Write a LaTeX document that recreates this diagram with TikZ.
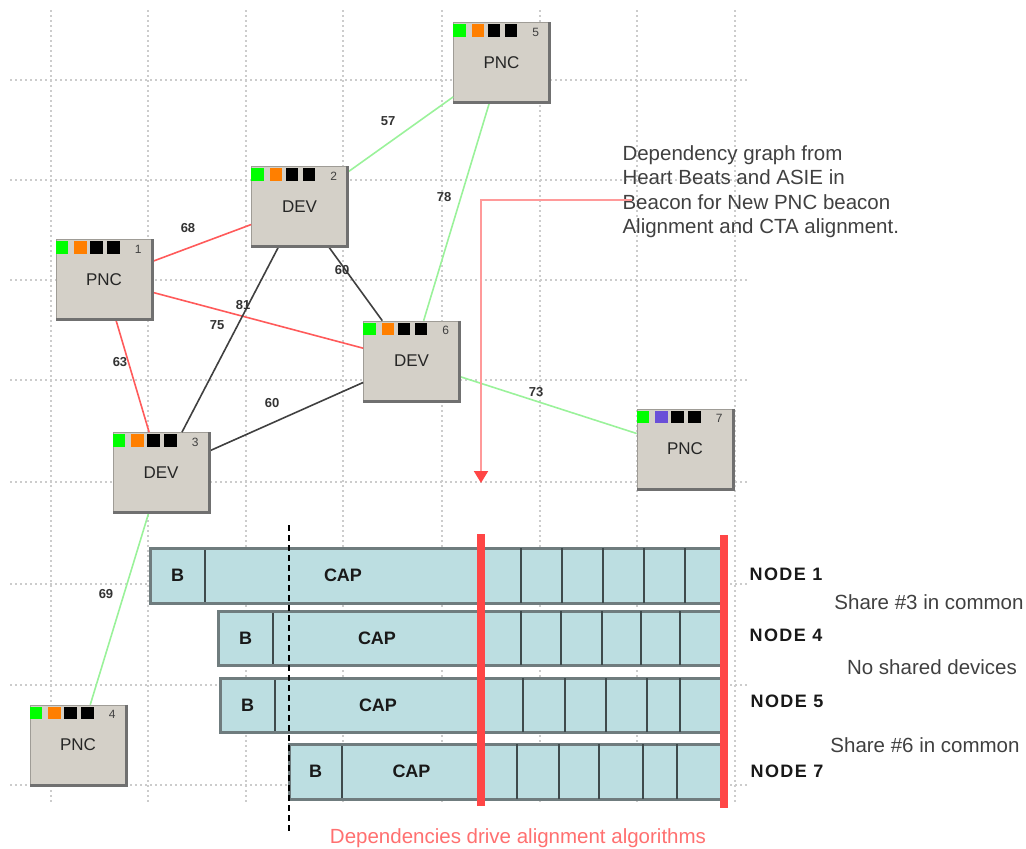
\documentclass[tikz,border=0pt]{standalone}
\usepackage{fontspec}
\setmainfont{Liberation Sans}
\usetikzlibrary{arrows.meta}

\definecolor{boxgray}{HTML}{D4D0C8}
\definecolor{shadowgray}{HTML}{707070}
\definecolor{linkred}{HTML}{FF5A5A}
\definecolor{linkgreen}{HTML}{9AF29A}
\definecolor{linkdark}{HTML}{404040}
\definecolor{slotblue}{HTML}{BCDEE1}
\definecolor{slotedge}{HTML}{6F7C7E}
\definecolor{slotdiv}{HTML}{3E4A4C}
\definecolor{markred}{HTML}{FF4646}
\definecolor{arrowred}{HTML}{FF9A9A}
\definecolor{notered}{HTML}{FF7070}
\definecolor{gridgray}{HTML}{CCCCCC}
\definecolor{ledgreen}{HTML}{00FF00}
\definecolor{ledorange}{HTML}{FF7F00}
\definecolor{ledpurple}{HTML}{6A4FD8}

\begin{document}
\begin{tikzpicture}[x=1pt, y=-1pt,
    station/.style={rectangle, draw=boxgray!75!black, line width=0.6pt, fill=boxgray,
        minimum width=96pt, minimum height=80pt, inner sep=0pt,
        font=\fontsize{17}{17}\selectfont, text=black!85},
    led/.style={rectangle, minimum size=12.5pt, inner sep=0pt},
    num/.style={font=\fontsize{12}{12}\selectfont, text=black!75},
    weight/.style={font=\bfseries\fontsize{13}{13}\selectfont, text=black!80},
    slotlabel/.style={font=\bfseries\fontsize{18}{18}\selectfont, text=black!90},
    rowlabel/.style={font=\bfseries\fontsize{18}{18}\selectfont\addfontfeature{LetterSpace=8}, text=black!90},
    note/.style={font=\fontsize{20.5}{24.5}\selectfont, text=black!75}]

    \useasboundingbox (0,0) rectangle (1026,849);

    % grid
    \foreach \x in {51,148,246,343,442,540,637,735}
        \draw[gridgray, line width=1.5pt, dash pattern=on 2pt off 3pt] (\x,10) -- (\x,803);
    \foreach \y in {80,180,280,380,482,584,685,785}
        \draw[gridgray, line width=1.5pt, dash pattern=on 2pt off 3pt] (10,\y) -- (747,\y);

    % stations
    \node[station] (p1) at (104,279.5) {PNC};
    \node[station] (d2) at (299.5,206.5) {DEV};
    \node[station] (d3) at (161,472.5) {DEV};
    \node[station] (p4) at (78,745) {PNC};
    \node[station] (p5) at (501.5,62.5) {PNC};
    \node[station] (d6) at (411.5,361) {DEV};
    \node[station] (p7) at (685,449) {PNC};

    \foreach \from/\to/\c in {p1/d2/linkred, p1/d6/linkred, p1/d3/linkred,
        d2/d6/linkdark, d2/d3/linkdark, d3/d6/linkdark,
        d2/p5/linkgreen, p5/d6/linkgreen, d6/p7/linkgreen, d3/p4/linkgreen}
        \draw[\c, line width=1.6pt] (\from) -- (\to);

    \foreach \n/\k/\c in {p1/1/ledorange, d2/2/ledorange, d3/3/ledorange, p4/4/ledorange,
        p5/5/ledorange, d6/6/ledorange, p7/7/ledpurple} {
        \draw[shadowgray, line width=3pt] (\n.north east) -- (\n.south east) -- (\n.south west);
        \node[led, fill=ledgreen] (\n-a) at ([xshift=6.5pt, yshift=-8.5pt]\n.north west) {};
        \node[led, fill=\c] (\n-b) at ([xshift=25pt, yshift=-8.5pt]\n.north west) {};
        \node[led, fill=black] (\n-c) at ([xshift=41pt, yshift=-8.5pt]\n.north west) {};
        \node[led, fill=black] (\n-d) at ([xshift=58pt, yshift=-8.5pt]\n.north west) {};
        \node[num] (\n-k) at ([xshift=-14pt, yshift=-10pt]\n.north east) {\k};
    }

    % link weights
    \node[weight] (w12) at (188,228) {68};
    \node[weight] (w25) at (388,121) {57};
    \node[weight] (w56) at (444,197) {78};
    \node[weight] (w26) at (342,270) {60};
    \node[weight] (w23) at (243,305) {81};
    \node[weight] (w16) at (217,325) {75};
    \node[weight] (w13) at (120,362) {63};
    \node[weight] (w36) at (272,403) {60};
    \node[weight] (w67) at (536,392) {73};
    \node[weight] (w34) at (106,594) {69};

    % explanation and arrow down to the superframes
    \node[note, anchor=west, align=left] (expl) at (619,191.5)
        {Dependency graph from\\Heart Beats and ASIE in\\Beacon for New PNC beacon\\Alignment and CTA alignment.};
    \coordinate (arrstart) at (632,200);
    \coordinate (arrend) at (481,483);
    \draw[arrowred, line width=2pt, -{Triangle[width=14pt, length=12pt, color=markred]}]
        (arrstart) -| (arrend);

    % superframes
    \foreach \t/\b/\l/\d/\r in {548/603/150/205/1, 611/665/218/273/2, 678/732/220/275/3, 744/799/289/342/4} {
        \fill[slotblue] (\l,\t) rectangle (722,\b);
        \draw[slotdiv, line width=2pt] (\d,\t) -- (\d,\b);
        \draw[slotedge, line width=3pt] (\l,\t) rectangle (722,\b);
        \node[slotlabel] (b\r) at ({(\l+\d)/2},{(\t+\b)/2}) {B};
        \node[slotlabel] (cap\r) at ({(\d+481)/2},{(\t+\b)/2}) {CAP};
    }
    \foreach \x in {521,562,603,644,685}
        \draw[slotdiv, line width=2pt] (\x,548) -- (\x,603);
    \foreach \x in {521,561,602,641,680}
        \draw[slotdiv, line width=2pt] (\x,611) -- (\x,665);
    \foreach \x in {523,565,606,647,680}
        \draw[slotdiv, line width=2pt] (\x,678) -- (\x,732);
    \foreach \x in {517,559,599,643,677}
        \draw[slotdiv, line width=2pt] (\x,744) -- (\x,799);

    \draw[markred, line width=8pt] (481,534) -- (481,806);
    \draw[markred, line width=8pt] (724,535) -- (724,808);
    \draw[black, line width=1.8pt, dash pattern=on 6pt off 4pt] (289,525) -- (289,832);

    \node[rowlabel] (row1) at (786,574) {NODE 1};
    \node[rowlabel] (row4) at (786,635) {NODE 4};
    \node[rowlabel] (row5) at (787,701) {NODE 5};
    \node[rowlabel] (row7) at (787,771) {NODE 7};
    \node[note] (share3) at (929,602) {Share \#3 in common};
    \node[note] (noshare) at (932,667) {No shared devices};
    \node[note] (share6) at (925,745) {Share \#6 in common};

    \node[note, text=notered] (caption) at (518,838) {Dependencies drive alignment algorithms};
\end{tikzpicture}
\end{document}
